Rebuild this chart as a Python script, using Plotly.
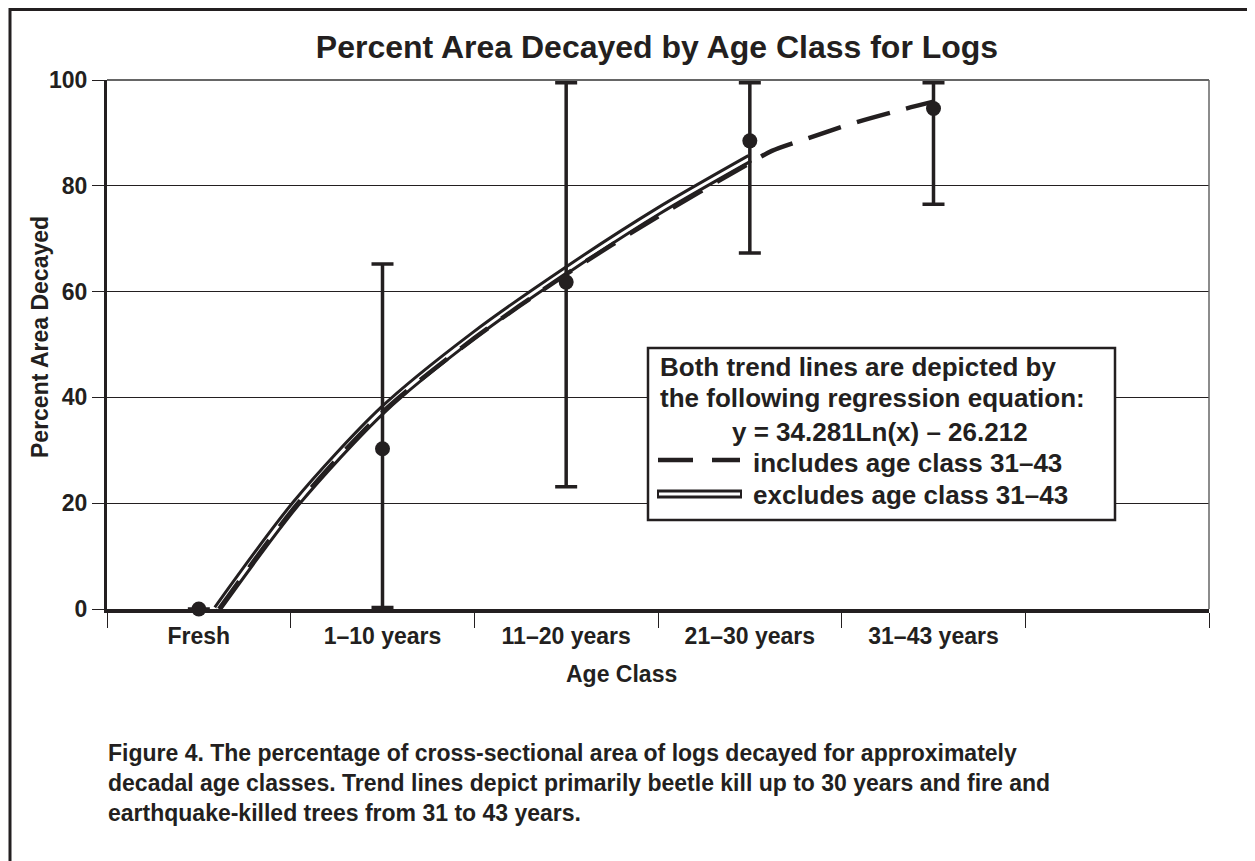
import plotly.graph_objects as go

# ---------------- data ----------------
categories = ["Fresh", "1–10 years", "11–20 years", "21–30 years", "31–43 years"]
mean_pct = [0.0, 30.3, 61.8, 88.5, 94.6]
upper_pct = [None, 65.2, 99.5, 99.5, 99.5]
lower_pct = [None, 0.3, 23.1, 67.3, 76.5]

# trend lines, x in category-slot units (0 = Fresh)
incl_x = [0.11, 0.54, 1.0, 1.5, 2.0, 2.5, 3.0, 3.12, 3.3, 3.56, 3.84, 4.0]
incl_y = [0.0, 20.0, 37.2, 51.2, 63.3, 74.2, 84.3, 86.6, 88.8, 91.8, 94.5, 95.9]
excl_x = [0.10, 0.53, 1.0, 1.5, 2.0, 2.5, 3.0]
excl_y = [0.0, 20.0, 37.6, 51.8, 64.0, 75.2, 85.2]

y_ticks = [0, 20, 40, 60, 80, 100]
n_slots = 6  # five classes plus one empty slot on the right

title_text = "Percent Area Decayed by Age Class for Logs"
x_title = "Age Class"
y_title = "Percent Area Decayed"
legend_lines = ["Both trend lines are depicted by",
                "the following regression equation:",
                "y = 34.281Ln(x) – 26.212"]
incl_label = "includes age class 31–43"
excl_label = "excludes age class 31–43"
caption_lines = [
    "Figure 4. The percentage of cross-sectional area of logs decayed for approximately",
    "decadal age classes. Trend lines depict primarily beetle kill up to 30 years and fire and",
    "earthquake-killed trees from 31 to 43 years.",
]

# ---------------- styling / layout ----------------
INK = "#231f20"
FONT = "Liberation Sans"
OFF = 8                      # page body margin
W, H = 1255 - OFF, 861 - OFF
# plot area in page coordinates
P_LEFT, P_RIGHT, P_TOP, P_BOTTOM = 107, 1209, 80, 609
L, T = P_LEFT - OFF, P_TOP - OFF
R, B = OFF + W - P_RIGHT, OFF + H - P_BOTTOM
PW, PH = P_RIGHT - P_LEFT, P_BOTTOM - P_TOP


def px(xp):
    return (xp - P_LEFT) / PW


def py(yp):
    return (P_BOTTOM - yp) / PH


x_pos = list(range(len(categories)))
err_plus = [None if u is None else u - m for u, m in zip(upper_pct, mean_pct)]
err_minus = [None if lo is None else m - lo for lo, m in zip(lower_pct, mean_pct)]

fig = go.Figure()

# excludes line: black outer + white inner
fig.add_trace(go.Scatter(x=excl_x, y=excl_y, mode="lines",
                         line=dict(color=INK, width=9, shape="spline", smoothing=0.8),
                         hoverinfo="skip", showlegend=False))
fig.add_trace(go.Scatter(x=excl_x, y=excl_y, mode="lines",
                         line=dict(color="white", width=3, shape="spline", smoothing=0.8),
                         hoverinfo="skip", showlegend=False))
# includes line: dashed
fig.add_trace(go.Scatter(x=incl_x, y=incl_y, mode="lines",
                         line=dict(color=INK, width=4.5, dash="34px,17px",
                                   shape="spline", smoothing=0.8),
                         hoverinfo="skip", showlegend=False))
# means with error bars
fig.add_trace(go.Scatter(
    x=x_pos, y=mean_pct, mode="markers",
    marker=dict(color=INK, size=15),
    error_y=dict(type="data", symmetric=False, array=err_plus, arrayminus=err_minus,
                 color=INK, thickness=3.5, width=11),
    cliponaxis=False, showlegend=False))

fig.update_layout(
    width=W, height=H,
    margin=dict(l=L, r=R, t=T, b=B),
    paper_bgcolor="white", plot_bgcolor="white",
    font=dict(family=FONT, color=INK, weight="bold"),
    title=dict(text="<b>" + title_text + "</b>", xref="container", x=(657 - OFF) / W,
               xanchor="center", yref="container", y=1 - (47 - OFF) / H, yanchor="middle",
               font=dict(size=32, family=FONT, color=INK)),
    showlegend=False,
)

fig.update_xaxes(
    range=[-0.5, n_slots - 0.5],
    tickmode="array", tickvals=x_pos, ticktext=categories,
    ticks="", ticklabelstandoff=4,
    tickfont=dict(size=23, family=FONT, color=INK, weight="bold"),
    showline=True, linecolor=INK, linewidth=3.5,
    showgrid=False, zeroline=False,
    minor=dict(tickmode="linear", tick0=-0.5, dtick=1, ticks="outside",
               ticklen=15, tickwidth=1, tickcolor=INK, showgrid=False),
)
fig.update_yaxes(
    range=[0, 100], tickmode="array", tickvals=y_ticks,
    ticks="outside", ticklen=12, tickwidth=1, tickcolor=INK,
    tickfont=dict(size=23, family=FONT, color=INK, weight="bold"),
    showline=True, linecolor=INK, linewidth=3,
    showgrid=True, gridcolor=INK, gridwidth=1, zeroline=False,
)

shapes = []
# outer frame
shapes.append(dict(type="rect", xref="paper", yref="paper",
                   x0=px(10), x1=px(1252.5), y0=py(9.5), y1=py(875),
                   line=dict(color=INK, width=3), fillcolor="rgba(0,0,0,0)", layer="above"))
# right border and top line of plot area
shapes.append(dict(type="line", xref="paper", yref="paper", x0=1, x1=1, y0=0, y1=1,
                   line=dict(color="#666666", width=1.5)))
shapes.append(dict(type="line", xref="paper", yref="paper", x0=0, x1=1, y0=1, y1=1,
                   line=dict(color="#666666", width=2)))
# legend box
shapes.append(dict(type="rect", xref="paper", yref="paper",
                   x0=px(648), x1=px(1115), y0=py(520), y1=py(348),
                   line=dict(color=INK, width=2.5), fillcolor="white", layer="above"))
# legend samples
shapes.append(dict(type="line", xref="paper", yref="paper",
                   x0=px(658), x1=px(740), y0=py(460), y1=py(460),
                   line=dict(color=INK, width=4.5, dash="35px,19px"), layer="above"))
shapes.append(dict(type="line", xref="paper", yref="paper",
                   x0=px(657), x1=px(742), y0=py(494), y1=py(494),
                   line=dict(color=INK, width=9), layer="above"))
shapes.append(dict(type="line", xref="paper", yref="paper",
                   x0=px(659), x1=px(740), y0=py(494), y1=py(494),
                   line=dict(color="white", width=3), layer="above"))

annotations = []
leg_font = dict(size=26, family=FONT, color=INK)
leg_y = [367, 398, 432]
leg_x = [658, 658, 730]
for txt, xx, yy in zip(legend_lines, leg_x, leg_y):
    annotations.append(dict(text="<b>" + txt + "</b>", xref="paper", yref="paper",
                            x=px(xx), y=py(yy), xanchor="left", yanchor="middle",
                            showarrow=False, font=leg_font))
annotations.append(dict(text="<b>" + incl_label + "</b>", xref="paper", yref="paper",
                        x=px(751), y=py(463), xanchor="left", yanchor="middle",
                        showarrow=False, font=leg_font))
annotations.append(dict(text="<b>" + excl_label + "</b>", xref="paper", yref="paper",
                        x=px(751), y=py(495), xanchor="left", yanchor="middle",
                        showarrow=False, font=leg_font))
# axis titles
annotations.append(dict(text="<b>" + x_title + "</b>", xref="paper", yref="paper",
                        x=px(621), y=py(674), xanchor="center", yanchor="middle",
                        showarrow=False, font=dict(size=23, family=FONT, color=INK)))
annotations.append(dict(text="<b>" + y_title + "</b>", xref="paper", yref="paper",
                        x=px(40), y=py(337), xanchor="center", yanchor="middle",
                        textangle=-90, showarrow=False,
                        font=dict(size=23, family=FONT, color=INK)))
# caption
annotations.append(dict(text="<b>" + "<br>".join(caption_lines) + "</b>",
                        xref="paper", yref="paper", x=px(106), y=py(783),
                        xanchor="left", yanchor="middle", align="left",
                        showarrow=False, font=dict(size=23, family=FONT, color=INK)))

fig.update_layout(shapes=shapes, annotations=annotations)

fig.write_html("out.html")
